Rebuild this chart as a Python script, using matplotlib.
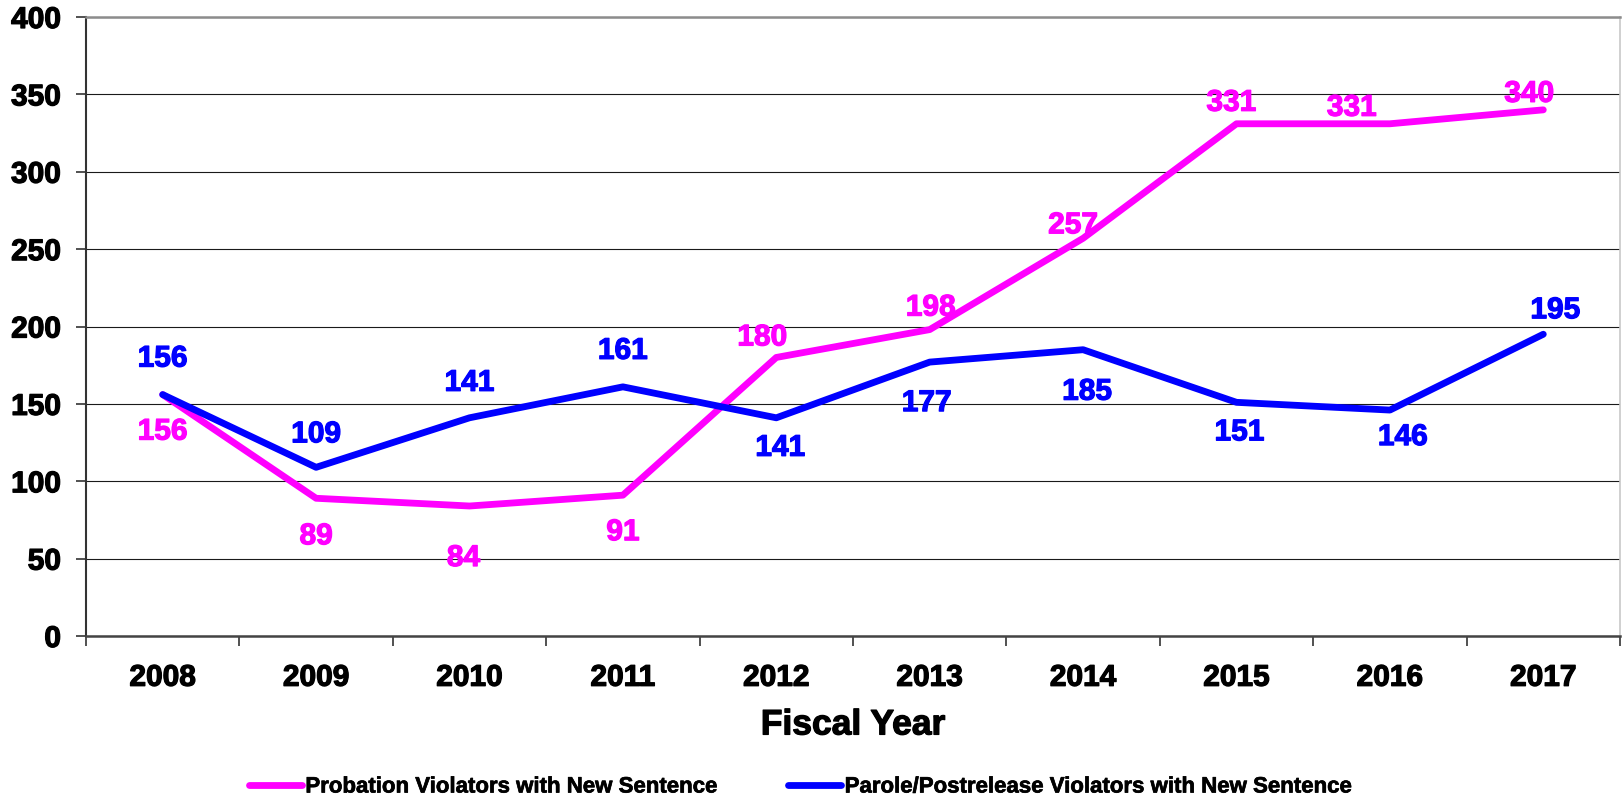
import matplotlib
matplotlib.use("Agg")
import matplotlib.pyplot as plt
import matplotlib.patheffects as pe
from matplotlib.ticker import FixedLocator, NullFormatter

plt.rcParams['font.family'] = ['Liberation Sans', 'DejaVu Sans']

years = ["2008", "2009", "2010", "2011", "2012", "2013", "2014", "2015", "2016", "2017"]
probation = [156, 89, 84, 91, 180, 198, 257, 331, 331, 340]
parole = [156, 109, 141, 161, 141, 177, 185, 151, 146, 195]
series_names = ["Probation Violators with New Sentence",
                "Parole/Postrelease Violators with New Sentence"]

PINK = "#FF00FF"
BLUE = "#0000FF"

# label offsets in pixels (dx, dy; dy positive = upward)
probation_offsets = [(0, -37), (0, -38), (-6, -52), (0, -37), (-14, 20),
                     (1, 22), (-10, 13), (-5, 21), (-38, 16), (-14, 16)]
parole_offsets = [(0, 36), (0, 33), (0, 35), (0, 36), (4, -30),
                  (-3, -41), (4, -42), (3, -30), (13, -27), (12, 24)]


def heavy(color):
    return [pe.withStroke(linewidth=0.9, foreground=color)]


W, H = 1623, 801
fig = plt.figure(figsize=(W / 100, H / 100), dpi=100)
ax = fig.add_axes([86 / W, (H - 636) / H, 1534 / W, 619 / H])

x = list(range(len(years)))
ax.plot(x, probation, color=PINK, lw=4.9, solid_capstyle='round',
        solid_joinstyle='round', label=series_names[0], zorder=3)
ax.plot(x, parole, color=BLUE, lw=4.9, solid_capstyle='round',
        solid_joinstyle='round', label=series_names[1], zorder=4)

for xi, v, (dx, dy) in zip(x, probation, probation_offsets):
    ax.annotate(str(v), (xi, v), xytext=(dx, dy), textcoords='offset pixels',
                ha='center', va='center', color=PINK, fontsize=21.5,
                fontweight='bold', zorder=5, path_effects=heavy(PINK))
for xi, v, (dx, dy) in zip(x, parole, parole_offsets):
    ax.annotate(str(v), (xi, v), xytext=(dx, dy), textcoords='offset pixels',
                ha='center', va='center', color=BLUE, fontsize=21.5,
                fontweight='bold', zorder=5, path_effects=heavy(BLUE))

ax.set_xlim(-0.5, len(years) - 0.5)
ax.set_ylim(0, 400)
ax.set_yticks(range(0, 401, 50))
ax.yaxis.grid(True, color='#1a1a1a', lw=0.8)
ax.set_axisbelow(True)

ax.set_xticks(x)
ax.set_xticklabels(years)
ax.xaxis.set_minor_locator(FixedLocator([i - 0.5 for i in range(len(years) + 1)]))
ax.xaxis.set_minor_formatter(NullFormatter())
ax.tick_params(axis='x', which='major', length=0, pad=20, labelsize=21.5)
ax.tick_params(axis='x', which='minor', length=7, width=1.2, color='#333333', direction='out')
ax.tick_params(axis='y', length=7, width=1.2, color='#333333', pad=11, labelsize=21.5)
for lbl in ax.get_xticklabels() + ax.get_yticklabels():
    lbl.set_fontweight('bold')
    lbl.set_path_effects(heavy('black'))

ax.spines['left'].set_color('#333333')
ax.spines['left'].set_linewidth(1.5)
ax.spines['bottom'].set_color('#444444')
ax.spines['bottom'].set_linewidth(1.8)
ax.spines['top'].set_color('#8c8c8c')
ax.spines['top'].set_linewidth(1.8)
ax.spines['right'].set_color('#c8c8c8')
ax.spines['right'].set_linewidth(1.2)

ax.set_xlabel("Fiscal Year", fontsize=25.5, fontweight='bold', labelpad=12,
              path_effects=heavy('black'))

leg = fig.legend(loc='center', bbox_to_anchor=(800 / W, 1 - 787 / H), ncol=2,
                 frameon=False, prop={'weight': 'bold', 'size': 16},
                 handlelength=2.4, handletextpad=0.15, columnspacing=3.2)
for t in leg.get_texts():
    t.set_path_effects([pe.withStroke(linewidth=0.5, foreground='black')])

fig.savefig("out.png", dpi=100, facecolor='white')
